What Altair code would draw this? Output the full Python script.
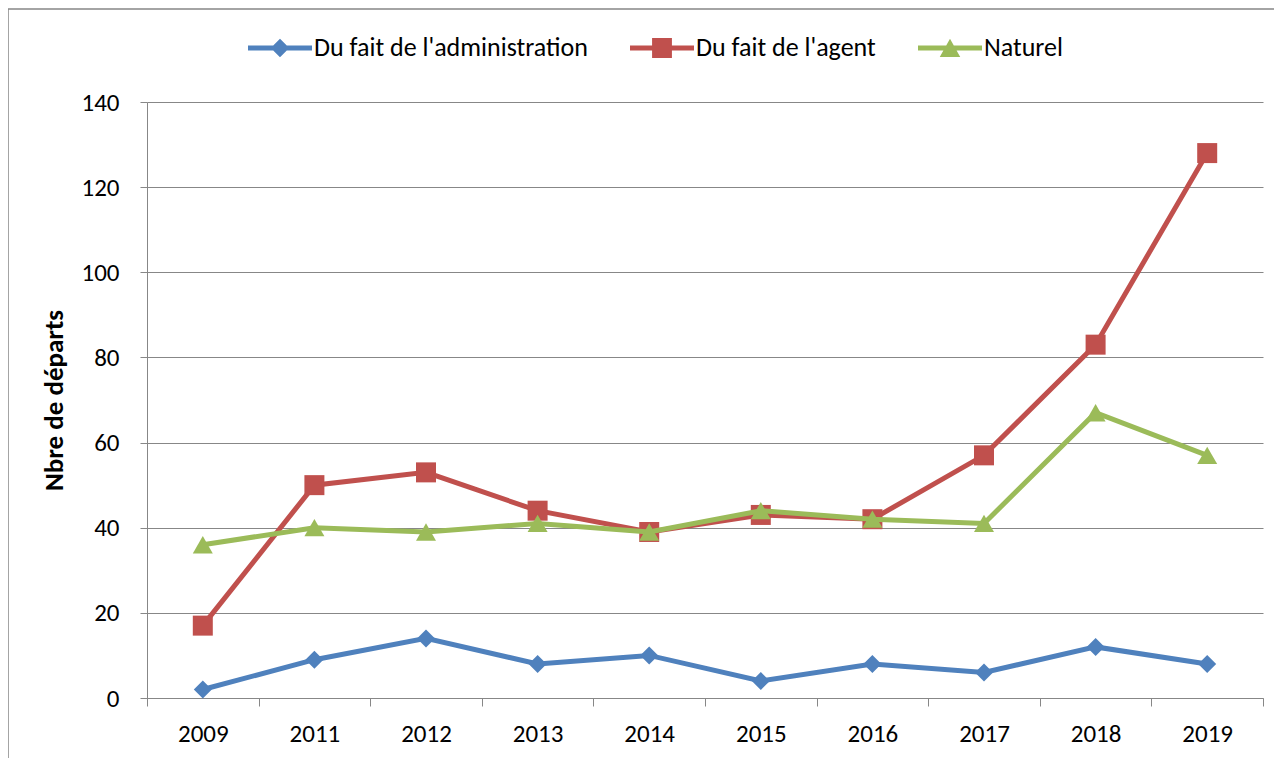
import altair as alt
import pandas as pd

years = ["2009", "2011", "2012", "2013", "2014", "2015", "2016", "2017", "2018", "2019"]
series_names = ["Du fait de l'administration", "Du fait de l'agent", "Naturel"]
admin = [2, 9, 14, 8, 10, 4, 8, 6, 12, 8]
agent = [17, 50, 53, 44, 39, 43, 42, 57, 83, 128]
naturel = [36, 40, 39, 41, 39, 44, 42, 41, 67, 57]
y_ticks = [0, 20, 40, 60, 80, 100, 120, 140]

colors = ["#4F81BD", "#C0504D", "#9BBB59"]
shapes = ["diamond", "square", "triangle-up"]
sizes = [324, 400, 400]

rows = []
for name, vals in zip(series_names, [admin, agent, naturel]):
    for yr, v in zip(years, vals):
        rows.append({"annee": yr, "serie": name, "valeur": v})
df = pd.DataFrame(rows)

FONT = "Carlito, Calibri, Lato, sans-serif"
GRAY = "#878787"

# legend symbol paths (line + marker), unit square -1..1
leg_paths = [
    "M-1,-0.08H1V0.08H-1Z M0,-0.29L0.29,0L0,0.29L-0.29,0Z",
    "M-1,-0.08H1V0.08H-1Z M-0.31,-0.31H0.31V0.31H-0.31Z",
    "M-1,-0.08H1V0.08H-1Z M0,-0.29L0.32,0.28L-0.32,0.28Z",
]

color_scale = alt.Scale(domain=series_names, range=colors)
x_enc = alt.X("annee:O", sort=years,
              scale=alt.Scale(paddingInner=0, paddingOuter=0),
              axis=alt.Axis(title=None, labelAngle=0, tickBand="extent", tickSize=8,
                            tickColor=GRAY, domainColor=GRAY, labelFontSize=25,
                            labelPadding=15, labelFont=FONT, labelColor="#000000",
                            grid=False))
y_enc = alt.Y("valeur:Q", scale=alt.Scale(domain=[0, 140], nice=False),
              axis=alt.Axis(title="Nbre de départs", values=y_ticks, tickSize=7,
                            tickColor=GRAY, domainColor=GRAY, gridColor=GRAY,
                            gridWidth=1, labelFontSize=25, labelFont=FONT,
                            labelColor="#000000", labelPadding=21,
                            titleFont=FONT, titleFontSize=27, titleFontWeight="bold",
                            titleColor="#000000", titlePadding=12))

frame = alt.Chart(pd.DataFrame({"k": [0]})).mark_rect(
    fill=None, stroke=GRAY, strokeWidth=1.5
).encode(x=alt.value(-139), x2=alt.value(1200), y=alt.value(-93), y2=alt.value(720))

layers = [frame]
for i, name in enumerate(series_names):
    base = alt.Chart(df).transform_filter(alt.datum.serie == name)
    line = base.mark_line(strokeWidth=5, color=colors[i]).encode(x=x_enc, y=y_enc)
    pts = base.mark_point(filled=True, opacity=1, shape=shapes[i], size=sizes[i],
                          color=colors[i]).encode(x=x_enc, y=y_enc)
    layers += [line, pts]

legend = alt.Legend(
    title=None, orient="none", legendX=101, legendY=-86, direction="horizontal",
    symbolSize=4096, labelFontSize=26, labelFont=FONT, labelColor="#000000",
    labelOffset=2, columnPadding=42, padding=0, symbolOpacity=1,
    symbolStrokeWidth=0, labelLimit=0,
)
leg_layer = alt.Chart(df).transform_filter("false").mark_point(
    filled=True, size=4096, opacity=1
).encode(
    x=x_enc, y=y_enc,
    color=alt.Color("serie:N", scale=color_scale, legend=legend),
    shape=alt.Shape("serie:N", scale=alt.Scale(domain=series_names, range=leg_paths),
                    legend=legend),
)
layers.append(leg_layer)

chart = alt.layer(*layers).properties(
    width=1116, height=596,
    autosize=alt.AutoSizeParams(type="none"),
    padding={"left": 139, "top": 94, "right": 11, "bottom": 60},
    background="white",
).configure_view(stroke=None)

chart.save("out.html", embed_options={"renderer": "svg", "actions": False})
